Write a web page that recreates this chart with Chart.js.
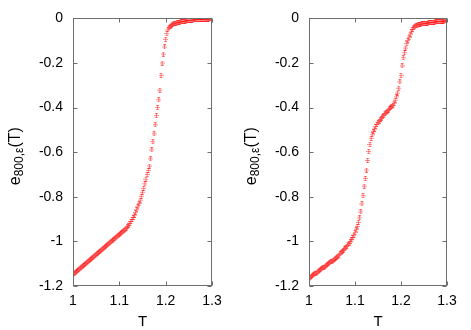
<!DOCTYPE html>
<html>
<head>
<meta charset="utf-8">
<script src="https://cdn.jsdelivr.net/npm/chart.js@4"></script>
<style>
  body { margin: 0; background: #fff; width: 471px; height: 330px; overflow: hidden; position: relative; }
  canvas { position: absolute; top: 0; }
</style>
</head>
<body>
<canvas id="left-chart" width="236" height="330" style="left:0"></canvas>
<canvas id="right-chart" width="235" height="330" style="left:236px"></canvas>
<script>
// Temperatures shared by both panels
const temps = [
  1.0000, 1.0025, 1.0050, 1.0075, 1.0100, 1.0125, 1.0150, 1.0175, 1.0200, 1.0225,
  1.0250, 1.0275, 1.0300, 1.0325, 1.0350, 1.0375, 1.0400, 1.0425, 1.0450, 1.0475,
  1.0500, 1.0525, 1.0550, 1.0575, 1.0600, 1.0625, 1.0650, 1.0675, 1.0700, 1.0725,
  1.0750, 1.0775, 1.0800, 1.0825, 1.0850, 1.0875, 1.0900, 1.0925, 1.0950, 1.0975,
  1.1000, 1.1025, 1.1050, 1.1075, 1.1100, 1.1125, 1.1150, 1.1175, 1.1200, 1.1225,
  1.1250, 1.1275, 1.1300, 1.1325, 1.1350, 1.1375, 1.1400, 1.1425, 1.1450, 1.1475,
  1.1500, 1.1525, 1.1550, 1.1575, 1.1600, 1.1625, 1.1650, 1.1675, 1.1700, 1.1725,
  1.1750, 1.1775, 1.1800, 1.1825, 1.1850, 1.1875, 1.1900, 1.1925, 1.1950, 1.1975,
  1.2000, 1.2025, 1.2050, 1.2075, 1.2100, 1.2125, 1.2150, 1.2175, 1.2200, 1.2225,
  1.2250, 1.2275, 1.2300, 1.2325, 1.2350, 1.2375, 1.2400, 1.2425, 1.2450, 1.2475,
  1.2500, 1.2525, 1.2550, 1.2575, 1.2600, 1.2625, 1.2650, 1.2675, 1.2700, 1.2725,
  1.2750, 1.2775, 1.2800, 1.2825, 1.2850, 1.2875, 1.2900, 1.2925, 1.2950, 1.2975,
  1.3000
];

// Left panel: single transition
const energyLeft = [
  -1.150, -1.145, -1.140, -1.136, -1.131, -1.126, -1.122, -1.117, -1.112, -1.108,
  -1.103, -1.099, -1.094, -1.090, -1.085, -1.081, -1.076, -1.072, -1.067, -1.063,
  -1.058, -1.054, -1.049, -1.045, -1.040, -1.036, -1.032, -1.027, -1.023, -1.019,
  -1.015, -1.010, -1.006, -1.002, -0.997, -0.993, -0.988, -0.984, -0.979, -0.975,
  -0.970, -0.965, -0.961, -0.956, -0.951, -0.945, -0.940, -0.934, -0.927, -0.919,
  -0.911, -0.902, -0.893, -0.882, -0.870, -0.858, -0.845, -0.830, -0.815, -0.798,
  -0.780, -0.762, -0.742, -0.721, -0.700, -0.682, -0.662, -0.630, -0.590, -0.553,
  -0.518, -0.477, -0.436, -0.400, -0.365, -0.322, -0.255, -0.200, -0.160, -0.128,
  -0.094, -0.068, -0.052, -0.043, -0.036, -0.031, -0.027, -0.024, -0.022, -0.021,
  -0.020, -0.018, -0.017, -0.016, -0.015, -0.014, -0.013, -0.012, -0.011, -0.010,
  -0.009, -0.009, -0.008, -0.008, -0.007, -0.007, -0.006, -0.006, -0.005, -0.005,
  -0.005, -0.004, -0.004, -0.004, -0.003, -0.003, -0.003, -0.003, -0.002, -0.002,
  -0.002
];

// Right panel: two-step transition
const energyRight = [
  -1.165, -1.161, -1.157, -1.154, -1.150, -1.146, -1.142, -1.138, -1.135, -1.131,
  -1.127, -1.123, -1.119, -1.115, -1.111, -1.108, -1.104, -1.100, -1.096, -1.092,
  -1.088, -1.084, -1.079, -1.075, -1.070, -1.066, -1.061, -1.056, -1.051, -1.046,
  -1.040, -1.034, -1.028, -1.022, -1.016, -1.009, -1.002, -0.993, -0.983, -0.972,
  -0.960, -0.947, -0.933, -0.915, -0.895, -0.868, -0.832, -0.795, -0.752, -0.718,
  -0.680, -0.637, -0.597, -0.565, -0.538, -0.522, -0.508, -0.496, -0.485, -0.476,
  -0.468, -0.461, -0.454, -0.447, -0.441, -0.435, -0.428, -0.422, -0.416, -0.411,
  -0.406, -0.401, -0.395, -0.389, -0.380, -0.367, -0.352, -0.335, -0.313, -0.285,
  -0.255, -0.213, -0.176, -0.154, -0.133, -0.113, -0.099, -0.085, -0.071, -0.060,
  -0.050, -0.042, -0.037, -0.034, -0.031, -0.029, -0.027, -0.026, -0.025, -0.024,
  -0.023, -0.022, -0.021, -0.021, -0.020, -0.019, -0.019, -0.018, -0.017, -0.017,
  -0.016, -0.015, -0.015, -0.014, -0.014, -0.013, -0.012, -0.012, -0.011, -0.011,
  -0.010
];

const xTicks = [1, 1.1, 1.2, 1.3];
const xTickLabels = ['1', '1.1', '1.2', '1.3'];
const yTicks = [0, -0.2, -0.4, -0.6, -0.8, -1, -1.2];
const yTickLabels = ['0', '-0.2', '-0.4', '-0.6', '-0.8', '-1', '-1.2'];

const FONT = '"Liberation Sans", Arial, Helvetica, sans-serif';

// small errorbar-like marker
const marker = document.createElement('canvas');
marker.width = 5;
marker.height = 5;
const mctx = marker.getContext('2d');
mctx.fillStyle = 'rgba(255, 0, 0, 0.45)';
mctx.fillRect(1, 0, 3, 1);
mctx.fillRect(1, 4, 3, 1);
mctx.fillRect(2, 0, 1, 5);
mctx.fillRect(0, 2, 5, 1);

// frame, inward ticks and axis titles
const framePlugin = {
  id: 'frame',
  afterDraw(chart) {
    const { ctx, chartArea: a, scales: { x, y } } = chart;
    const L = Math.round(a.left) + 0.5, R = Math.round(a.right) - 0.5;
    const T = Math.round(a.top) + 0.5, B = Math.round(a.bottom) - 0.5;
    const len = 4;
    ctx.save();
    ctx.strokeStyle = '#6e6e6e';
    ctx.lineWidth = 1;
    ctx.strokeRect(L, T, R - L, B - T);
    ctx.beginPath();
    xTicks.forEach(v => {
      const px = Math.round(x.getPixelForValue(v)) + 0.5;
      ctx.moveTo(px, B); ctx.lineTo(px, B - len);
      ctx.moveTo(px, T); ctx.lineTo(px, T + len);
    });
    yTicks.forEach(v => {
      const py = Math.round(y.getPixelForValue(v)) + 0.5;
      ctx.moveTo(L, py); ctx.lineTo(L + len, py);
      ctx.moveTo(R, py); ctx.lineTo(R - len, py);
    });
    ctx.stroke();

    // x title
    ctx.fillStyle = '#000';
    ctx.font = '15px ' + FONT;
    ctx.textAlign = 'center';
    ctx.textBaseline = 'middle';
    ctx.fillText('T', (a.left + a.right) / 2, 322);

    // y title with subscript
    ctx.translate(16, (a.top + a.bottom) / 2 + 4);
    ctx.rotate(-Math.PI / 2);
    ctx.textAlign = 'left';
    const big = '16px ' + FONT, small = '12px ' + FONT;
    ctx.font = big;
    const w1 = ctx.measureText('e').width, w3 = ctx.measureText('(T)').width;
    ctx.font = small;
    const w2 = ctx.measureText('800,\u03b5').width;
    let tx = -(w1 + w2 + w3) / 2;
    ctx.font = big;
    ctx.fillText('e', tx, 0);
    tx += w1;
    ctx.font = small;
    ctx.fillText('800,\u03b5', tx, 4);
    tx += w2;
    ctx.font = big;
    ctx.fillText('(T)', tx, 0);
    ctx.restore();
  }
};

const makeChart = (id, values) => new Chart(document.getElementById(id), {
  type: 'scatter',
  data: {
    datasets: [{
      data: temps.map((t, i) => ({ x: t, y: values[i] })),
      pointStyle: marker,
      pointRadius: 2.5,
      showLine: false
    }]
  },
  options: {
    responsive: false,
    animation: false,
    layout: { padding: { top: 17, right: 24, bottom: 0, left: 0 } },
    plugins: { legend: { display: false }, tooltip: { enabled: false } },
    scales: {
      x: {
        type: 'linear', min: 1, max: 1.3,
        afterBuildTicks: s => { s.ticks = xTicks.map(v => ({ value: v })); },
        afterFit: s => { s.height = 44; },
        ticks: {
          callback: (v, i) => xTickLabels[i],
          color: '#000', font: { family: FONT, size: 14 }, padding: 7, maxRotation: 0
        },
        grid: { display: false, drawTicks: false },
        border: { display: false }
      },
      y: {
        type: 'linear', min: -1.2, max: 0,
        afterBuildTicks: s => { s.ticks = yTicks.map(v => ({ value: v })); },
        afterFit: s => { s.width = 73; },
        ticks: {
          callback: (v, i) => yTickLabels[i],
          color: '#000', font: { family: FONT, size: 14 }, padding: 10
        },
        grid: { display: false, drawTicks: false },
        border: { display: false }
      }
    }
  },
  plugins: [framePlugin]
});

makeChart('left-chart', energyLeft);
makeChart('right-chart', energyRight);
</script>
</body>
</html>
